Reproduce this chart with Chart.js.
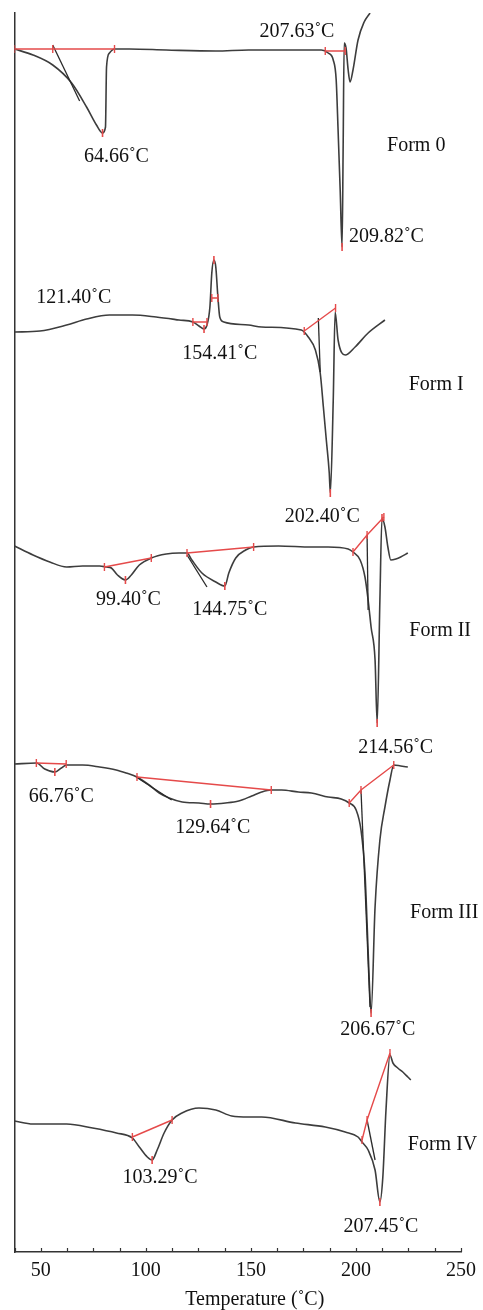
<!DOCTYPE html>
<html>
<head>
<meta charset="utf-8">
<script src="https://cdn.jsdelivr.net/npm/chart.js@4/dist/chart.umd.min.js"></script>
<style>
  html, body { margin: 0; padding: 0; background: #fff; }
  canvas { display: block; }
</style>
</head>
<body>
<canvas id="dsc" width="483" height="1310"></canvas>
<script>
// DSC thermograms of five solid forms, stacked with vertical offsets.
// Each point: [temperature °C, heat flow (arbitrary units, offset)]

const form0 = [
  [37.5,120.3],[46.3,119.7],[55.7,118.7],[64.7,116.9],[71.8,114.5],[76.5,112.7],[79.4,111.9],
  [80.8,112.5],[81.3,118.5],[82.7,119.9],[85.1,120.3],[92.2,120.3],[109.7,120.2],[133.3,120.1],
  [148.9,120.2],[183.5,120.2],[186.8,119.9],[189.2,119.2],[190.6,117.2],[191.5,112.2],[192.5,106.2],
  [193.4,100.5],[193.9,110.2],[194.4,120.9],[195.3,120.4],[196.3,118.2],[197.2,117.0],[198.6,118.2],
  [201.0,121.2],[203.9,123.0],[206.7,123.9]
];
const form1 = [
  [37.5,92.0],[49.6,92.1],[62.3,92.7],[71.8,93.3],[82.7,93.7],[93.6,93.7],[104.9,93.5],[115.8,93.2],
  [122.4,93.0],[125.3,92.6],[127.7,92.3],[129.1,92.7],[130.5,94.5],[131.4,97.9],[132.4,99.2],
  [133.3,98.5],[134.3,95.5],[135.2,93.5],[137.1,93.0],[148.9,92.7],[155.1,92.5],[174.0,92.2],
  [177.3,91.5],[180.7,90.2],[183.0,87.9],[184.5,84.5],[185.9,81.2],[187.3,77.9],[187.8,75.9],
  [189.2,85.2],[190.1,94.0],[191.5,91.2],[194.9,89.7],[199.6,90.5],[205.8,91.9],[213.8,93.2]
];
const form2 = [
  [37.5,70.6],[46.3,69.7],[54.3,69.0],[62.3,68.5],[69.9,68.6],[78.0,68.6],[81.3,68.5],[83.6,68.4],
  [86.5,67.7],[90.3,67.2],[93.1,67.7],[96.9,68.7],[102.6,69.4],[109.7,69.8],[115.8,69.9],[119.6,69.9],
  [121.9,69.2],[126.7,67.9],[133.3,67.0],[137.6,66.6],[139.5,67.9],[142.8,69.4],[147.5,70.2],
  [151.3,70.5],[163.2,70.6],[178.8,70.5],[186.8,70.5],[196.3,70.3],[198.6,70.0],[202.0,69.2],
  [204.3,67.5],[205.8,65.2],[207.2,62.5],[209.1,59.2],[210.1,52.9],[211.4,65.2],[212.4,73.4],
  [213.8,72.5],[215.2,70.5],[216.6,69.2],[219.0,69.3],[221.3,69.5],[224.7,69.9]
];
const form3 = [
  [37.5,48.8],[48.0,48.9],[51.9,48.3],[56.7,48.0],[59.8,48.4],[62.2,48.7],[69.9,48.7],[78.0,48.5],
  [85.9,48.2],[90.6,47.9],[95.8,47.5],[101.6,46.7],[106.4,45.9],[111.1,45.4],[117.3,45.0],[125.3,44.9],
  [130.8,44.8],[137.9,44.9],[144.2,45.1],[150.4,45.6],[155.1,46.0],[159.7,46.2],[164.6,46.2],
  [172.6,46.0],[178.8,45.9],[186.8,45.5],[193.0,45.3],[196.8,44.9],[200.1,44.2],[202.4,42.2],
  [204.3,37.9],[205.3,32.9],[206.2,27.9],[207.2,23.9],[209.1,34.5],[211.4,41.2],[213.8,44.5],
  [216.2,47.2],[218.0,48.7],[221.3,48.6],[224.7,48.5]
];
const form4 = [
  [37.5,13.1],[46.3,12.8],[62.3,12.8],[74.7,12.4],[86.0,11.9],[93.6,11.4],[96.9,10.5],[100.7,9.5],
  [103.0,9.2],[105.4,10.2],[108.7,11.9],[112.5,13.2],[117.2,13.9],[125.3,14.4],[133.3,14.2],
  [140.9,13.6],[148.9,13.5],[155.1,13.5],[171.2,12.9],[185.4,12.5],[194.9,12.0],[201.0,11.5],
  [202.9,11.0],[205.8,10.2],[209.1,8.2],[211.4,5.0],[212.8,7.5],[214.3,14.2],[216.2,19.7],
  [217.6,18.9],[219.9,18.4],[222.3,18.0],[224.7,17.5],[226.1,17.2]
];

// Integration baselines (software construction lines)
const baselines = [
  [[37.5,120.3],[55.7,120.3],[85.1,120.3]],
  [[185.4,120.1],[194.9,120.1]],
  [[122.4,93.0],[129.1,93.0]],
  [[131.4,95.4],[134.3,95.4]],
  [[175.4,92.1],[190.3,94.4]],
  [[80.3,68.5],[102.6,69.4]],
  [[119.6,69.9],[151.3,70.5]],
  [[198.6,70.0],[205.3,71.7],[213.3,73.5]],
  [[47.9,48.9],[62.1,48.8]],
  [[95.8,47.5],[159.7,46.2]],
  [[196.8,44.9],[202.4,46.2],[218.0,48.7]],
  [[93.6,11.5],[112.5,13.2]],
  [[202.9,11.2],[205.3,13.2],[216.2,19.9]]
];

// Onset tangents
const tangents = [
  [[55.7,120.7],[68.5,115.1]],
  [[182.1,93.4],[183.0,88.0]],
  [[119.6,69.7],[129.1,66.5]],
  [[205.3,71.7],[205.8,64.2]],
  [[95.4,47.5],[112.3,45.2]],
  [[202.4,46.2],[206.7,24.5]],
  [[205.3,13.2],[209.1,9.2]]
];

// Marked peak extremes
const peaks = [
  [79.4,111.9],[193.4,100.5],[127.7,92.3],[132.4,99.2],[187.8,75.9],[90.3,67.2],[137.6,66.6],
  [210.1,52.9],[212.4,73.4],[56.7,48.0],[130.8,44.8],[207.2,23.9],[103.0,9.2],[211.4,5.0]
];

// Peak temperature annotations and sample names: [text, °C, heat flow]
const notes = [
  ['64.66˚C', 86.0, 109.5], ['207.63˚C', 171.9, 122.0], ['209.82˚C', 214.5, 101.5], ['Form 0', 228.7, 110.6],
  ['121.40˚C', 65.7, 95.4], ['154.41˚C', 135.2, 89.8], ['Form I', 238.2, 86.7], ['202.40˚C', 184.0, 73.5],
  ['99.40˚C', 91.7, 65.2], ['144.75˚C', 140.0, 64.2], ['Form II', 240.1, 62.1], ['214.56˚C', 218.9, 50.4],
  ['66.76˚C', 59.8, 45.5], ['129.64˚C', 131.9, 42.4], ['Form III', 242.0, 33.9], ['206.67˚C', 210.4, 22.2],
  ['103.29˚C', 106.8, 7.4], ['Form IV', 241.2, 10.7], ['207.45˚C', 211.9, 2.5]
];

const tickLabels = ['50', '100', '150', '200', '250'];
const axisTitle = 'Temperature (˚C)';

const SERIF = '"Liberation Serif", "Times New Roman", serif';
const CURVE = '#3d3d3d';
const RED = 'rgb(229,74,74)';
const toXY = arr => arr.map(p => ({ x: p[0], y: p[1] }));

const datasets = [];
baselines.forEach(b => datasets.push({
  data: toXY(b), borderColor: RED, borderWidth: 1.4, pointStyle: 'line', pointRotation: 90,
  pointRadius: 4, pointBorderColor: RED, pointBorderWidth: 1.4, tension: 0
}));
datasets.push({
  data: toXY(peaks), showLine: false, pointStyle: 'line', pointRotation: 90,
  pointRadius: 4, pointBorderColor: RED, pointBorderWidth: 1.6
});
tangents.forEach(t => datasets.push({
  data: toXY(t), borderColor: '#2a2a2a', borderWidth: 1.3, pointRadius: 0, tension: 0
}));
[form0, form1, form2, form3, form4].forEach(f => datasets.push({
  data: toXY(f), borderColor: CURVE, borderWidth: 1.6, pointRadius: 0,
  cubicInterpolationMode: 'monotone'
}));

const decorations = {
  id: 'decorations',
  afterDraw(chart) {
    const { ctx, chartArea: a, scales: { x, y } } = chart;
    ctx.save();
    // inward tick marks on the temperature axis
    ctx.strokeStyle = '#333';
    ctx.lineWidth = 1.2;
    x.ticks.forEach(t => {
      const px = Math.round(x.getPixelForValue(t.value)) + 0.5;
      ctx.beginPath();
      ctx.moveTo(px, a.bottom);
      ctx.lineTo(px, a.bottom - 4);
      ctx.stroke();
    });
    // annotations
    ctx.fillStyle = '#111';
    ctx.font = '20px ' + SERIF;
    ctx.textAlign = 'center';
    ctx.textBaseline = 'middle';
    notes.forEach(n => ctx.fillText(n[0], x.getPixelForValue(n[1]), y.getPixelForValue(n[2])));
    // axis title
    ctx.textBaseline = 'alphabetic';
    ctx.fillText(axisTitle, (a.left + a.right) / 2 + 17, chart.height - 5);
    ctx.restore();
  }
};

new Chart(document.getElementById('dsc'), {
  type: 'line',
  data: { datasets },
  options: {
    responsive: false,
    devicePixelRatio: 1,
    animation: false,
    layout: { padding: { left: 14.5, right: 19.5, top: 13, bottom: 0 } },
    plugins: { legend: { display: false }, tooltip: { enabled: false } },
    elements: { line: { fill: false } },
    scales: {
      x: {
        type: 'linear', min: 37.5, max: 250,
        grid: { display: false, drawTicks: false },
        border: { display: true, color: '#333', width: 1.5 },
        ticks: {
          stepSize: 12.5, autoSkip: false, maxRotation: 0, padding: 7, color: '#111',
          font: { family: SERIF, size: 20 },
          callback: v => tickLabels.includes(String(v)) ? String(v) : ''
        },
        afterFit: s => { s.height = 58; }
      },
      y: {
        type: 'linear', min: 0, max: 123.9,
        grid: { display: false, drawTicks: false },
        border: { display: true, color: '#333', width: 1.5 },
        ticks: { display: false },
        afterFit: s => { s.width = 0; }
      }
    }
  },
  plugins: [decorations]
});
</script>
</body>
</html>
